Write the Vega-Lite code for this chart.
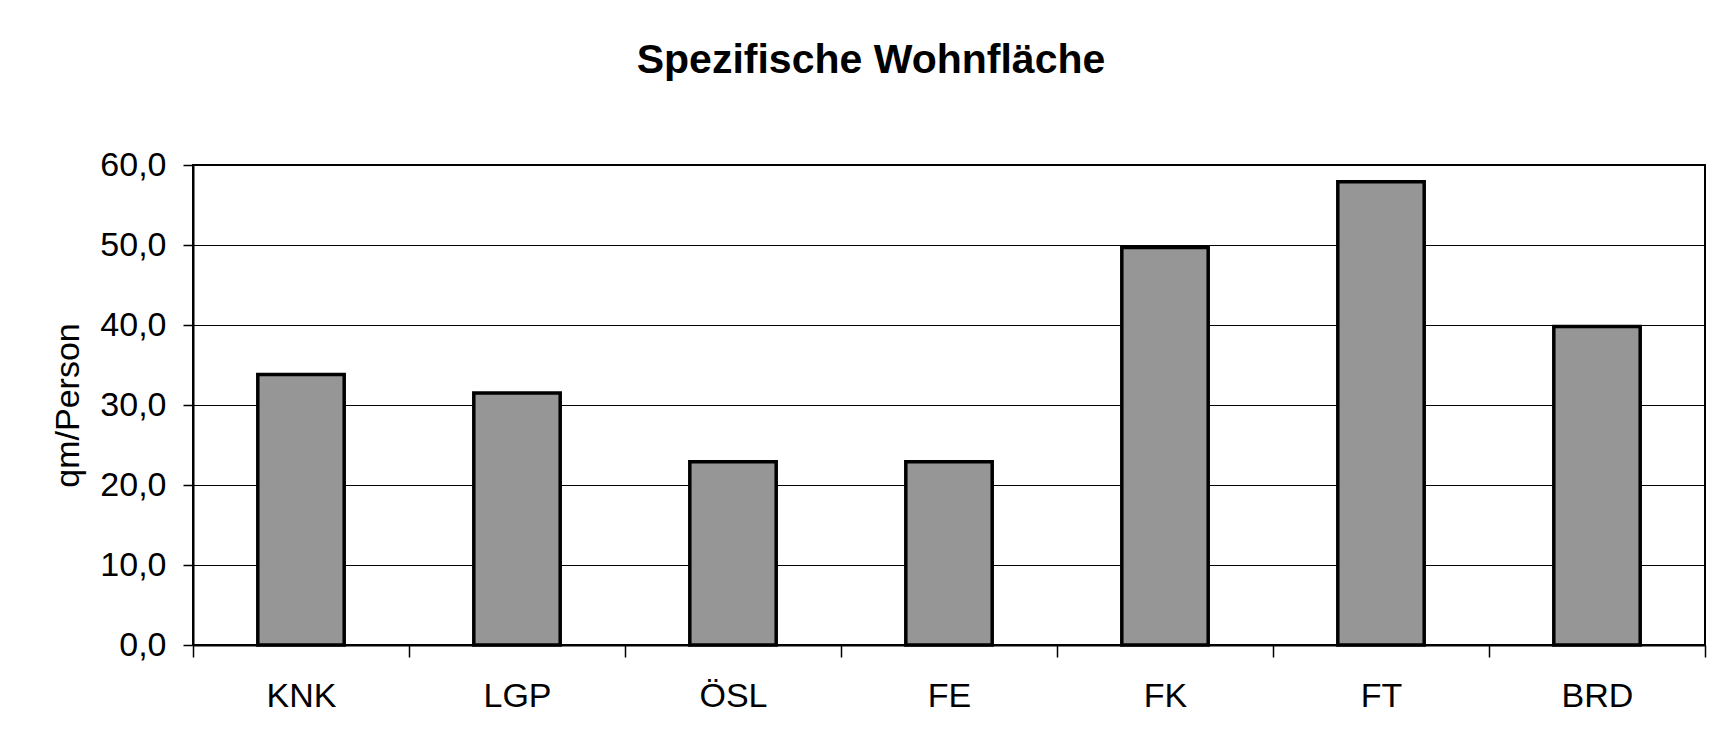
{
  "$schema": "https://vega.github.io/schema/vega-lite/v6.json",
  "autosize": "none",
  "width": 1512,
  "height": 480,
  "padding": {"left": 193, "top": 165, "right": 16, "bottom": 103},
  "background": "white",
  "title": {
    "text": "Spezifische Wohnfläche",
    "font": "Liberation Sans",
    "fontSize": 41,
    "fontWeight": "bold",
    "color": "black",
    "anchor": "middle",
    "frame": "group",
    "baseline": "alphabetic",
    "offset": 34,
    "dx": -78
  },
  "data": {
    "values": [
      {"Region": "KNK", "Wohnflaeche": 33.8},
      {"Region": "LGP", "Wohnflaeche": 31.5},
      {"Region": "ÖSL", "Wohnflaeche": 22.9},
      {"Region": "FE", "Wohnflaeche": 22.9},
      {"Region": "FK", "Wohnflaeche": 49.7},
      {"Region": "FT", "Wohnflaeche": 57.9},
      {"Region": "BRD", "Wohnflaeche": 39.8}
    ]
  },
  "mark": {"type": "bar", "fill": "#969696", "stroke": "black", "strokeWidth": 3.5, "width": {"band": 0.4}},
  "encoding": {
    "x": {
      "field": "Region",
      "type": "nominal",
      "sort": null,
      "scale": {"paddingInner": 0, "paddingOuter": 0},
      "axis": {
        "title": null,
        "labelAngle": 0,
        "labelFont": "Liberation Sans",
        "labelFontSize": 34,
        "labelColor": "black",
        "labelPadding": 22,
        "tickSize": 12,
        "tickColor": "black",
        "tickWidth": 1.5,
        "tickBand": "extent",
        "domainColor": "black",
        "domainWidth": 2,
        "grid": false
      }
    },
    "y": {
      "field": "Wohnflaeche",
      "type": "quantitative",
      "scale": {"domain": [0, 60], "nice": false},
      "axis": {
        "title": "qm/Person",
        "titleFont": "Liberation Sans",
        "titleFontSize": 34,
        "titleFontWeight": "normal",
        "titleColor": "black",
        "titleAngle": -90,
        "titleAlign": "center",
        "titleBaseline": "middle",
        "titleX": -125,
        "titleY": 240,
        "values": [0, 10, 20, 30, 40, 50, 60],
        "labelExpr": "replace(format(datum.value, '.1f'), '.', ',')",
        "labelFont": "Liberation Sans",
        "labelFontSize": 34,
        "labelColor": "black",
        "labelPadding": 17,
        "tickSize": 10,
        "tickColor": "black",
        "tickWidth": 1.5,
        "domainColor": "black",
        "domainWidth": 2,
        "grid": true,
        "gridColor": "black",
        "gridWidth": 1.2,
        "gridOpacity": 1
      }
    }
  },
  "config": {
    "view": {"stroke": "black", "strokeWidth": 2}
  }
}
